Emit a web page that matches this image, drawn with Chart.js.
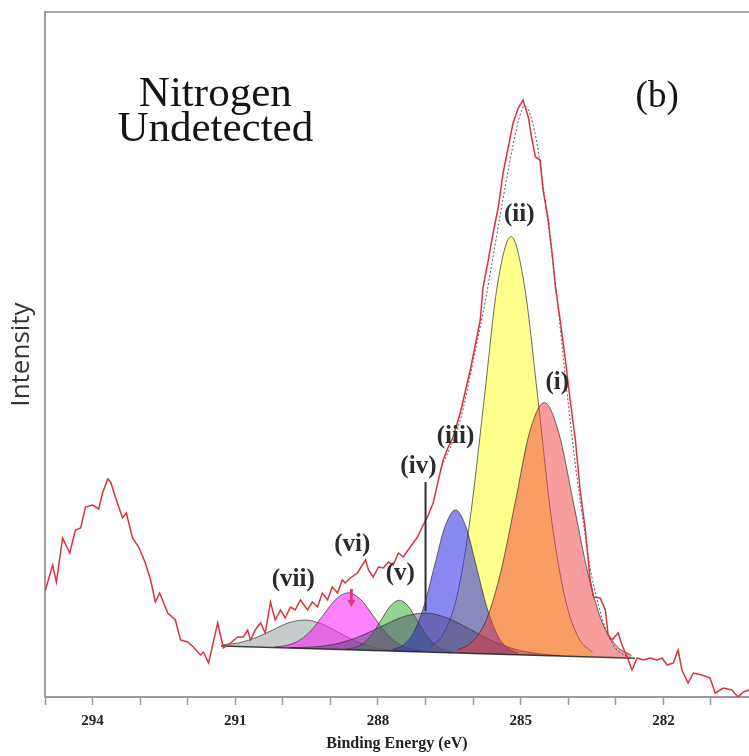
<!DOCTYPE html>
<html>
<head>
<meta charset="utf-8">
<script src="https://cdn.jsdelivr.net/npm/chart.js@4.4.0/dist/chart.umd.min.js"></script>
<style>
  html, body { margin: 0; padding: 0; background: #fff; }
  #wrap { width: 749px; height: 756px; }
</style>
</head>
<body>
<div id="wrap"><canvas id="xps" width="749" height="756"></canvas></div>
<script>
// C 1s region, binding energy (eV) vs counts (a.u.)
const dataEnergy = [294.99, 294.84, 294.76, 294.63, 294.48, 294.36, 294.25, 294.15, 294.00, 293.87,
  293.79, 293.68, 293.62, 293.52, 293.37, 293.29, 293.16, 293.03, 292.89, 292.78,
  292.68, 292.59, 292.42, 292.26, 292.15, 292.00, 291.88, 291.73, 291.67, 291.56,
  291.37, 291.25, 291.10, 290.95, 290.83, 290.74, 290.68, 290.58, 290.47, 290.37,
  290.26, 290.16, 290.05, 289.95, 289.84, 289.74, 289.63, 289.48, 289.38, 289.27,
  289.17, 289.06, 288.96, 288.85, 288.75, 288.69, 288.58, 288.43, 288.33, 288.26,
  288.20, 288.10, 287.99, 287.89, 287.78, 287.68, 287.57, 287.47, 287.32, 287.17,
  287.07, 286.96, 286.84, 286.73, 286.63, 286.52, 286.42, 286.27, 286.06, 285.85,
  285.79, 285.68, 285.58, 285.47, 285.37, 285.26, 285.16, 285.05, 284.95, 284.84,
  284.76, 284.69, 284.59, 284.53, 284.42, 284.34, 284.27, 284.17, 284.06, 283.96,
  283.85, 283.75, 283.64, 283.58, 283.54, 283.47, 283.33, 283.22, 283.16, 283.08,
  282.95, 282.87, 282.76, 282.66, 282.55, 282.42, 282.28, 282.13, 282.03, 281.92,
  281.79, 281.69, 281.61, 281.48, 281.37, 281.19, 281.02, 280.91, 280.74, 280.56,
  280.43, 280.32, 280.20];
const dataCounts = [107, 132, 115, 159, 144, 167, 169, 190, 192, 188,
  204, 218, 215, 200, 179, 184, 159, 150, 134, 117,
  95, 104, 84, 77, 57, 55, 50, 42, 45, 34,
  74, 49, 54, 60, 60, 67, 57, 67, 74, 64,
  95, 77, 87, 79, 90, 87, 97, 87, 95, 90,
  104, 97, 110, 104, 117, 114, 119, 124, 132, 137,
  127, 120, 130, 129, 135, 132, 144, 140, 150, 160,
  170, 180, 194, 217, 237, 250, 260, 284, 327, 377,
  410, 437, 464, 490, 524, 550, 574, 589, 597, 580,
  557, 540, 537, 507, 477, 444, 410, 377, 337, 297,
  257, 207, 167, 137, 117, 100, 99, 87, 62, 57,
  64, 52, 40, 27, 39, 37, 39, 37, 39, 32,
  34, 47, 27, 14, 24, 22, 19, 4, 9, 7,
  0, 5, 7];

// fitted envelope (dotted)
const envEnergy = [286.69, 286.27, 285.95, 285.74, 285.60, 285.43, 285.28, 285.16, 285.03, 284.92,
  284.82, 284.67, 284.53, 284.38, 284.23, 284.10, 283.96, 283.81, 283.66, 283.54,
  283.39, 283.22, 283.01, 282.76];
const envCounts = [227, 277, 347, 397, 435, 482, 522, 552, 579, 591,
  585, 557, 512, 457, 397, 337, 277, 217, 167, 129,
  97, 69, 49, 40];

// Shirley-type background under the components
const bgEnergy = [291.3, 282.6];
const bgCounts = [51.0, 38.8];

// fitted components (i) ... (vii)
const peak1Energy = [286.33, 286.03, 285.72, 285.42, 285.11, 284.81, 284.50, 284.20, 283.89, 283.58, 283.28, 282.97, 282.67];
const peak1Counts = [46.8, 54.7, 77.4, 124.8, 195.7, 265.2, 294.4, 264.3, 194.0, 122.3, 73.9, 50.4, 41.7];

const peak2Energy = [286.91, 286.63, 286.34, 286.06, 285.77, 285.49, 285.20, 284.92, 284.63, 284.35, 284.06, 283.78, 283.49];
const peak2Counts = [49.4, 62.8, 100.6, 179.3, 296.7, 411.7, 460.4, 410.9, 295.1, 176.9, 97.4, 58.8, 44.6];

const peak3Energy = [287.69, 287.47, 287.25, 287.03, 286.81, 286.59, 286.37, 286.15, 285.93, 285.71, 285.49, 285.27, 285.05];
const peak3Counts = [47.5, 51.9, 64.6, 91.4, 131.4, 170.6, 187.1, 170.0, 130.2, 89.5, 62.1, 48.8, 43.8];

const peak4Energy = [289.85, 289.38, 288.90, 288.43, 287.95, 287.48, 287.00, 286.53, 286.05, 285.58, 285.10, 284.63, 284.15];
const peak4Counts = [49.4, 50.0, 52.9, 59.7, 70.0, 80.0, 84.0, 78.7, 67.3, 55.7, 47.6, 43.3, 41.4];

const peak5Energy = [288.69, 288.50, 288.31, 288.12, 287.93, 287.74, 287.55, 287.36, 287.17, 286.98, 286.79, 286.60, 286.41];
const peak5Counts = [47.9, 49.3, 53.7, 63.1, 77.2, 91.0, 96.7, 90.5, 76.1, 61.5, 51.6, 46.6, 44.7];

const peak6Energy = [290.18, 289.92, 289.66, 289.40, 289.14, 288.88, 288.62, 288.36, 288.10, 287.84, 287.58, 287.32, 287.06];
const peak6Counts = [50.0, 51.6, 56.4, 66.8, 82.6, 97.9, 104.2, 97.2, 81.1, 64.6, 53.5, 47.9, 45.7];

const peak7Energy = [291.26, 290.91, 290.57, 290.22, 289.88, 289.53, 289.19, 288.84, 288.50, 288.15, 287.81, 287.46];
const peak7Counts = [52.2, 54.3, 59.3, 66.8, 74.2, 77.0, 73.2, 64.8, 56.4, 50.5, 47.4, 45.9];

// tick labels shown every 3 eV
const tickLabels = [294, 291, 288, 285, 282];

// peak labels and where they sit (data coords)
const peakLabels = ['(i)', '(ii)', '(iii)', '(iv)', '(v)', '(vi)', '(vii)'];
const labelEnergy = [284.23, 285.03, 286.37, 287.15, 287.53, 288.54, 289.78];
const labelCounts = [314, 482, 260, 230, 123, 152, 117];

const pts = (xs, ys) => xs.map((x, i) => ({ x: x, y: ys[i] }));

const BG = 2; // index of background dataset, components fill down to it

function component(e, c, fillColor) {
  return {
    data: pts(e, c),
    borderColor: 'rgba(45,45,45,0.7)',
    borderWidth: 1,
    backgroundColor: fillColor,
    pointRadius: 0,
    cubicInterpolationMode: 'monotone',
    fill: BG
  };
}

const notes = {
  id: 'notes',
  afterDatasetsDraw(chart) {
    const { ctx } = chart;
    const x = chart.scales.x, y = chart.scales.y;
    ctx.save();

    // (iv) pointer
    ctx.strokeStyle = '#2e2e2e';
    ctx.lineWidth = 2;
    ctx.beginPath();
    ctx.moveTo(x.getPixelForValue(287.0), y.getPixelForValue(215));
    ctx.lineTo(x.getPixelForValue(287.0), y.getPixelForValue(86));
    ctx.stroke();

    // small arrow on (vi)
    const ax = x.getPixelForValue(288.56);
    const a0 = y.getPixelForValue(108), a1 = y.getPixelForValue(90);
    ctx.strokeStyle = '#e23a78';
    ctx.fillStyle = '#e23a78';
    ctx.lineWidth = 3;
    ctx.beginPath();
    ctx.moveTo(ax, a0);
    ctx.lineTo(ax, a1 - 6);
    ctx.stroke();
    ctx.beginPath();
    ctx.moveTo(ax - 4, a1 - 7);
    ctx.lineTo(ax + 4, a1 - 7);
    ctx.lineTo(ax, a1);
    ctx.closePath();
    ctx.fill();

    ctx.fillStyle = '#2b2b2b';
    ctx.textAlign = 'center';
    ctx.textBaseline = 'middle';
    ctx.font = 'bold 25px "Liberation Serif", serif';
    peakLabels.forEach((t, i) => {
      ctx.fillText(t, x.getPixelForValue(labelEnergy[i]), y.getPixelForValue(labelCounts[i]));
    });

    ctx.fillStyle = '#151515';
    ctx.font = '43px "Liberation Serif", serif';
    ctx.fillText('Nitrogen', x.getPixelForValue(291.42), y.getPixelForValue(602));
    ctx.fillText('Undetected', x.getPixelForValue(291.42), y.getPixelForValue(567));

    ctx.font = '37px "Liberation Serif", serif';
    ctx.fillText('(b)', x.getPixelForValue(282.13), y.getPixelForValue(600));
    ctx.restore();
  }
};

new Chart(document.getElementById('xps'), {
  type: 'line',
  data: {
    datasets: [
      {
        data: pts(dataEnergy, dataCounts),
        borderColor: '#d8343f',
        borderWidth: 1.5,
        pointRadius: 0,
        tension: 0,
        fill: false
      },
      {
        data: pts(envEnergy, envCounts),
        borderColor: 'rgba(60,60,60,0.85)',
        borderWidth: 1,
        borderDash: [2, 2],
        pointRadius: 0,
        cubicInterpolationMode: 'monotone',
        fill: false
      },
      {
        data: pts(bgEnergy, bgCounts),
        borderColor: 'rgba(35,35,35,0.85)',
        borderWidth: 1.5,
        pointRadius: 0,
        fill: false
      },
      component(peak1Energy, peak1Counts, 'rgba(240,60,60,0.5)'),
      component(peak4Energy, peak4Counts, 'rgba(60,50,100,0.4)'),
      component(peak3Energy, peak3Counts, 'rgba(40,40,230,0.55)'),
      component(peak2Energy, peak2Counts, 'rgba(255,255,0,0.45)'),
      component(peak5Energy, peak5Counts, 'rgba(40,170,40,0.5)'),
      component(peak6Energy, peak6Counts, 'rgba(250,30,250,0.55)'),
      component(peak7Energy, peak7Counts, 'rgba(130,140,140,0.45)')
    ]
  },
  options: {
    responsive: false,
    animation: false,
    devicePixelRatio: 1,
    layout: { padding: { top: 12, right: 0, bottom: 0, left: 0 } },
    plugins: { legend: { display: false }, tooltip: { enabled: false } },
    scales: {
      x: {
        type: 'linear',
        min: 280.2,
        max: 295,
        reverse: true,
        afterFit(s) { s.height = 59; },
        border: { display: true, color: '#9a9a9a', width: 2 },
        grid: { display: true, drawOnChartArea: false, drawTicks: true, tickLength: 8, tickColor: '#9a9a9a', tickWidth: 1.5 },
        ticks: {
          stepSize: 1,
          includeBounds: false,
          autoSkip: false,
          maxRotation: 0,
          padding: 7,
          color: '#222',
          font: { family: '"Liberation Serif", serif', size: 15, weight: 'bold' },
          callback: v => tickLabels.includes(v) ? String(v) : ''
        },
        title: {
          display: true,
          text: 'Binding Energy (eV)',
          color: '#222',
          padding: { top: 0, bottom: 3 },
          font: { family: '"Liberation Serif", serif', size: 16, weight: 'bold' }
        }
      },
      x2: {
        type: 'linear',
        position: 'top',
        min: 280.2,
        max: 295,
        reverse: true,
        afterFit(s) { s.height = 0; },
        border: { display: true, color: '#a8a8a8', width: 2 },
        grid: { display: false },
        ticks: { display: false }
      },
      y: {
        type: 'linear',
        min: 0,
        max: 685,
        afterFit(s) { s.width = 45; },
        border: { display: true, color: '#a0a0a0', width: 2 },
        grid: { display: false },
        ticks: { display: false },
        title: {
          display: true,
          text: 'Intensity',
          color: '#333',
          padding: { top: 6, bottom: 0 },
          font: { family: '"Open Sans", sans-serif', size: 26 }
        }
      }
    }
  },
  plugins: [notes]
});
</script>
</body>
</html>
